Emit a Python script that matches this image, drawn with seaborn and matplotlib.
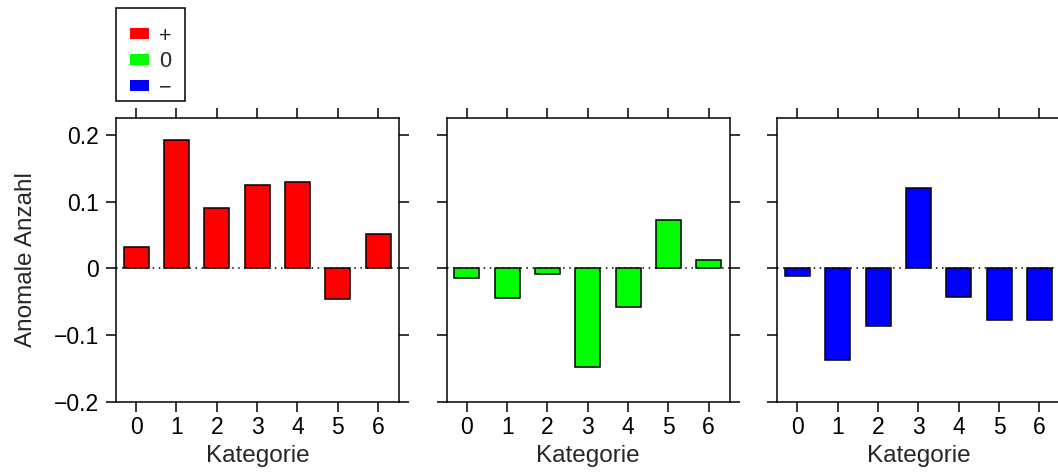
import numpy as np
import pandas as pd
import seaborn as sns
import matplotlib
matplotlib.use("Agg")
import matplotlib.pyplot as plt
from matplotlib.patches import Patch, Rectangle

# Data
kategorien = [0, 1, 2, 3, 4, 5, 6]
gruppen = ["+", "0", "\u2212"]
farben = ["#FF0000", "#00FF00", "#0000FF"]
werte_plus = [0.032, 0.193, 0.091, 0.125, 0.129, -0.046, 0.051]
werte_null = [-0.015, -0.044, -0.008, -0.148, -0.058, 0.073, 0.012]
werte_minus = [-0.011, -0.138, -0.086, 0.121, -0.043, -0.077, -0.077]
y_ticks = [-0.2, -0.1, 0, 0.1, 0.2]
y_ticklabels = ["\u22120.2", "\u22120.1", "0", "0.1", "0.2"]

df = pd.DataFrame({
    "Kategorie": kategorien * 3,
    "Gruppe": np.repeat(gruppen, len(kategorien)),
    "Anomalie": werte_plus + werte_null + werte_minus,
})

sns.set_style("white")
plt.rcParams["font.family"] = ["Liberation Sans", "DejaVu Sans"]

W, H = 1058, 472
fig = plt.figure(figsize=(W / 100, H / 100), dpi=100)

lefts = [116, 446.7, 777.3]
top, bottom, width = 118, 401.7, 283

for i, (g, col) in enumerate(zip(gruppen, farben)):
    ax = fig.add_axes([lefts[i] / W, (H - bottom) / H, width / W, (bottom - top) / H])
    sub = df[df["Gruppe"] == g]
    sns.barplot(data=sub, x="Kategorie", y="Anomalie", order=kategorien,
                color=col, saturation=1, width=0.62,
                edgecolor="black", linewidth=1.1, ax=ax)
    ax.axhline(0, color="black", lw=1.1, ls=(0, (1, 3)), zorder=0)
    ax.set_xlim(-0.5, 6.52)
    ax.set_ylim(-0.2, 0.2255)
    ax.set_yticks(y_ticks)
    ax.set_yticklabels(y_ticklabels)
    ax.tick_params(axis="both", direction="out", length=7, width=1.1,
                   top=True, right=True, left=True, bottom=True,
                   labeltop=False, labelright=False, labelsize=16.5,
                   colors="black", pad=3.5)
    ax.tick_params(axis="y", pad=5)
    for sp in ax.spines.values():
        sp.set_visible(True)
        sp.set_color("black")
        sp.set_linewidth(1.1)
    ax.set_xlabel("Kategorie", fontsize=17.5, labelpad=4)
    if i == 0:
        ax.set_ylabel("Anomale Anzahl", fontsize=17.5, labelpad=12)
    else:
        ax.set_ylabel("")
        ax.tick_params(axis="y", labelleft=False)
    ax.grid(False)

# legend box drawn separately, entries placed inside it
fig.add_artist(Rectangle((115.7 / W, (H - 101) / H), 69.3 / W, 92.7 / H,
                         transform=fig.transFigure, fill=False,
                         edgecolor="black", linewidth=1.1))
handles = [Patch(facecolor=c, edgecolor="none") for c in farben]
leg = fig.legend(handles, gruppen, loc="upper left",
                 bbox_to_anchor=(130 / W, 1 - 25.5 / H),
                 fontsize=15.5, frameon=False,
                 handlelength=0.88, handleheight=0.42, handletextpad=0.45,
                 labelspacing=0.22, borderpad=0, borderaxespad=0)

fig.savefig("out.png", dpi=100)
